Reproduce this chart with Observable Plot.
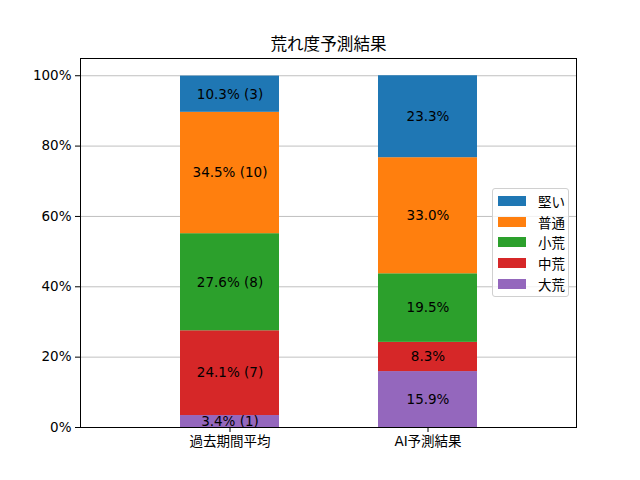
<!DOCTYPE html>
<html>
<head>
<meta charset="utf-8">
<script src="https://cdn.jsdelivr.net/npm/d3@7"></script>
<script src="https://cdn.jsdelivr.net/npm/@observablehq/plot@0.6"></script>
<style>
  body { margin: 0; background: white; }
  #wrap { position: relative; width: 640px; height: 480px; font-family: "DejaVu Sans", "Noto Sans CJK JP", sans-serif; }
  #legend { position: absolute; left: 492px; top: 188px; width: 77px; height: 109px; box-sizing: border-box;
            border: 1px solid #d0d0d0; border-radius: 3px; background: rgba(255,255,255,0.8); }
  .row { position: absolute; left: 0; height: 20px; display: flex; align-items: center; font-size: 13.5px; color: black; }
  .sw { width: 28px; height: 10px; margin-left: 5px; margin-right: 12px; }
</style>
</head>
<body>
<div id="wrap"></div>
<script>
const title = "荒れ度予測結果";
const categories = ["過去期間平均", "AI予測結果"];
const levels = ["大荒", "中荒", "小荒", "普通", "堅い"]; // bottom -> top
const pastPct = [3.4, 24.1, 27.6, 34.5, 10.3];
const pastCount = [1, 7, 8, 10, 3];
const aiPct = [15.9, 8.3, 19.5, 33.0, 23.3];
const colors = ["#9467bd", "#d62728", "#2ca02c", "#ff7f0e", "#1f77b4"];
const yTicks = [0, 20, 40, 60, 80, 100];

const data = [];
levels.forEach((lv, i) => {
  data.push({group: categories[0], level: lv, pct: pastPct[i], label: `${pastPct[i].toFixed(1)}% (${pastCount[i]})`});
});
levels.forEach((lv, i) => {
  data.push({group: categories[1], level: lv, pct: aiPct[i], label: `${aiPct[i].toFixed(1)}%`});
});

const font = "DejaVu Sans, Noto Sans CJK JP, sans-serif";
const chart = Plot.plot({
  width: 640,
  height: 480,
  marginLeft: 80,
  marginRight: 64,
  marginTop: 58,
  marginBottom: 53,
  style: {fontFamily: font, fontSize: "13.5px", color: "black", background: "white"},
  x: {domain: categories, padding: 0.5, label: null},
  y: {domain: [0, 104.9], label: null},
  color: {domain: levels, range: colors},
  marks: [
    Plot.gridY(yTicks, {stroke: "#b0b0b0", strokeOpacity: 1, strokeWidth: 0.8}),
    Plot.barY(data, {x: "group", y: "pct", fill: "level", order: levels}),
    Plot.text(data, Plot.stackY({x: "group", y: "pct", z: "level", order: levels, text: "label", fill: "black", fontSize: 13.5})),
    Plot.axisY({ticks: yTicks, tickFormat: d => d + "%", tickSize: 5, tickPadding: 4, fontSize: 13.5, label: null}),
    Plot.axisX({tickSize: 5, tickPadding: 4, fontSize: 13.5, label: null}),
    Plot.frame({stroke: "black", strokeWidth: 1}),
    Plot.text([title], {frameAnchor: "top", lineAnchor: "middle", dy: -14, fontSize: 16.6, fill: "black"})
  ]
});
const wrap = document.getElementById("wrap");
wrap.appendChild(chart);

const legend = document.createElement("div");
legend.id = "legend";
levels.slice().reverse().forEach((lv, i) => {
  const row = document.createElement("div");
  row.className = "row";
  row.style.top = (2 + i * 20.7) + "px";
  const sw = document.createElement("div");
  sw.className = "sw";
  sw.style.background = colors[levels.indexOf(lv)];
  const t = document.createElement("span");
  t.textContent = lv;
  row.appendChild(sw);
  row.appendChild(t);
  legend.appendChild(row);
});
wrap.appendChild(legend);
</script>
</body>
</html>
